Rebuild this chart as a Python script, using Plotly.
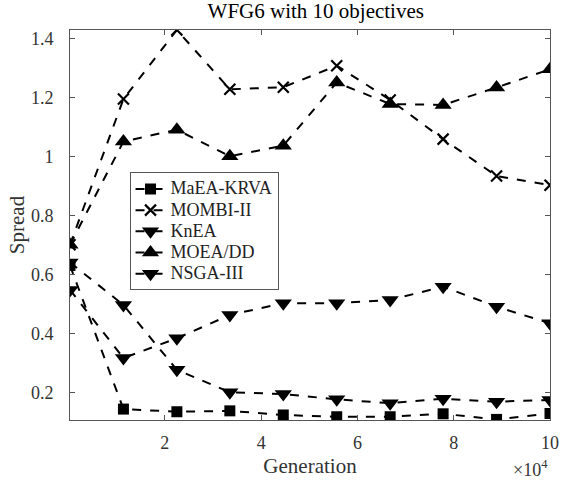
import plotly.graph_objects as go

generation = [0.03, 1.14, 2.25, 3.35, 4.46, 5.57, 6.68, 7.78, 8.89, 10.0]
maea_krva = [0.63, 0.143, 0.134, 0.137, 0.123, 0.117, 0.117, 0.127, 0.108, 0.128]
mombi_ii = [0.70, 1.194, 1.428, 1.227, 1.234, 1.307, 1.191, 1.058, 0.933, 0.902]
knea = [0.547, 0.316, 0.383, 0.462, 0.502, 0.502, 0.513, 0.558, 0.49, 0.434]
moea_dd = [0.70, 1.05, 1.09, 1.0, 1.036, 1.25, 1.177, 1.174, 1.233, 1.295]
nsga_iii = [0.64, 0.496, 0.276, 0.20, 0.194, 0.176, 0.163, 0.178, 0.168, 0.174]

series = [
    ("MaEA-KRVA", maea_krva, "square", 11),
    ("MOMBI-II", mombi_ii, "x-thin", 11),
    ("KnEA", knea, "triangle-down", 15),
    ("MOEA/DD", moea_dd, "triangle-up", 15),
    ("NSGA-III", nsga_iii, "triangle-down", 15),
]

xticks = [2, 4, 6, 8, 10]
yticks = [0.2, 0.4, 0.6, 0.8, 1.0, 1.2, 1.4]
yticktext = ["0.2", "0.4", "0.6", "0.8", "1", "1.2", "1.4"]

FONT = "'Liberation Serif', 'Times New Roman', serif"
AX = "#555555"
TXT = "#333333"

fig = go.Figure()
for name, vals, sym, size in series:
    fig.add_trace(go.Scatter(
        x=generation, y=vals,
        name="<span style='font-size:18px'>" + name + "</span>",
        mode="lines+markers",
        line=dict(color="black", width=2, dash="dash"),
        marker=dict(symbol=sym, size=size, color="black",
                    line=dict(color="black", width=2.2 if sym == "x-thin" else 0)),
    ))

axis_common = dict(
    showline=True, linecolor=AX, linewidth=1, mirror="ticks",
    ticks="inside", ticklen=5, tickcolor=AX, showgrid=False, zeroline=False,
    tickfont=dict(family=FONT, size=18, color=TXT),
)

fig.update_layout(
    width=571, height=486,
    margin=dict(l=70, r=12, t=30, b=66),
    paper_bgcolor="white", plot_bgcolor="white",
    font=dict(family=FONT),
    title=dict(text="WFG6 with 10 objectives", x=0.553, xanchor="center",
               y=0.993, yanchor="top",
               font=dict(family=FONT, size=21, color="black")),
    xaxis=dict(range=[0.03, 10], tickvals=xticks, ticklabelstandoff=6,
               title=dict(text="Generation", standoff=6,
                          font=dict(family=FONT, size=21, color=TXT)),
               **axis_common),
    yaxis=dict(range=[0.106, 1.428], tickvals=yticks, ticktext=yticktext,
               ticklabelstandoff=12,
               title=dict(text="Spread", standoff=0,
                          font=dict(family=FONT, size=21, color=TXT)),
               **axis_common),
    legend=dict(x=0.124, y=0.635, xanchor="left", yanchor="top",
                bgcolor="white", bordercolor=AX, borderwidth=1,
                font=dict(family=FONT, size=14, color="#222222"),
                tracegroupgap=0, itemwidth=30),
    showlegend=True,
)

fig.add_annotation(text="×10<sup>4</sup>", xref="paper", yref="paper",
                   x=1.0, y=-0.09, xanchor="right", yanchor="top",
                   showarrow=False,
                   font=dict(family=FONT, size=18, color=TXT))

fig.write_html("out.html")
